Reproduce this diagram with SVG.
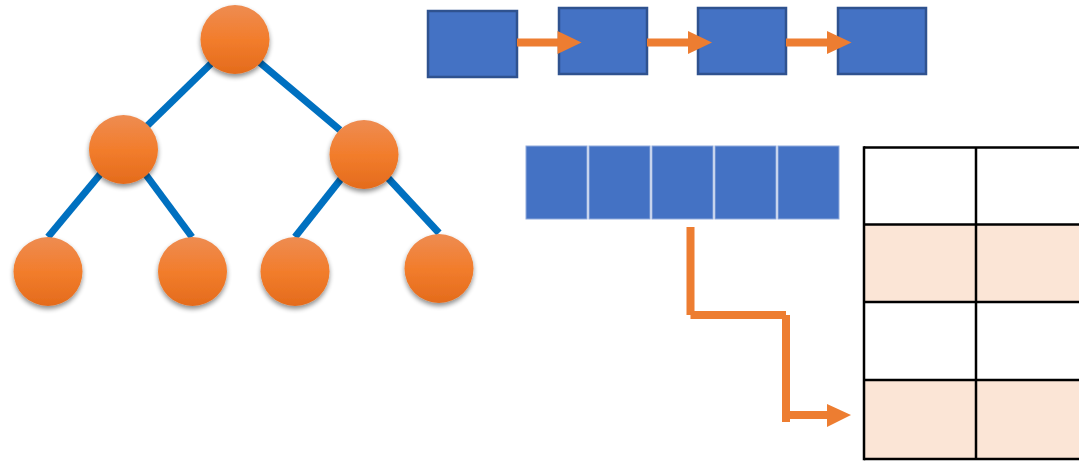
<svg xmlns="http://www.w3.org/2000/svg" width="1079" height="463" viewBox="0 0 1079 463">
  <defs>
    <linearGradient id="ballFill" x1="0" y1="0" x2="0" y2="1">
      <stop offset="0" stop-color="#EE8C52"/>
      <stop offset="0.5" stop-color="#F27D2C"/>
      <stop offset="1" stop-color="#E46B1C"/>
    </linearGradient>
    <filter id="ballShadow" x="-30%" y="-30%" width="160%" height="170%">
      <feGaussianBlur in="SourceAlpha" stdDeviation="2.5"/>
      <feOffset dx="0" dy="3" result="blur"/>
      <feComponentTransfer><feFuncA type="linear" slope="0.45"/></feComponentTransfer>
      <feMerge><feMergeNode/><feMergeNode in="SourceGraphic"/></feMerge>
    </filter>
  </defs>
  <style>
    .edge { stroke: #0070C0; stroke-width: 7; fill: none; }
    .ball { fill: url(#ballFill); filter: url(#ballShadow); }
    .node { fill: #4472C4; stroke: #2F528F; stroke-width: 2.5; }
    .cell { fill: #4472C4; stroke: #8FAADC; stroke-width: 1; }
    .flow { stroke: #ED7D31; stroke-width: 8; fill: none; }
    .head { fill: #ED7D31; }
    .grid { stroke: #000; stroke-width: 2.5; }
  </style>
  <rect width="1079" height="463" fill="#fff"/>

  <!-- binary tree: edges under the nodes -->
  <g id="tree-edges">
    <line class="edge" x1="225" y1="50" x2="147" y2="126"/>
    <line class="edge" x1="245" y1="50" x2="340" y2="130"/>
    <line class="edge" x1="112" y1="160" x2="48" y2="237"/>
    <line class="edge" x1="135" y1="160" x2="192" y2="237"/>
    <line class="edge" x1="352" y1="165" x2="295" y2="237"/>
    <line class="edge" x1="376" y1="165" x2="439" y2="233"/>
  </g>
  <g id="tree-root"><circle class="ball" cx="235" cy="39.5" r="34.5"/></g>
  <g id="tree-left"><circle class="ball" cx="123.5" cy="149.5" r="34.5"/></g>
  <g id="tree-right"><circle class="ball" cx="364" cy="154.5" r="34.5"/></g>
  <g id="tree-leaf-1"><circle class="ball" cx="48" cy="271.5" r="34.5"/></g>
  <g id="tree-leaf-2"><circle class="ball" cx="192.5" cy="271.5" r="34.5"/></g>
  <g id="tree-leaf-3"><circle class="ball" cx="295" cy="271.5" r="34.5"/></g>
  <g id="tree-leaf-4"><circle class="ball" cx="439" cy="268.5" r="34.5"/></g>

  <!-- linked list -->
  <g id="list-1"><rect class="node" x="428" y="11" width="89" height="66"/></g>
  <g id="list-2"><rect class="node" x="559" y="8" width="88" height="66"/></g>
  <g id="list-3"><rect class="node" x="698" y="8" width="88" height="66"/></g>
  <g id="list-4"><rect class="node" x="838" y="8" width="88" height="66"/></g>
  <g id="list-links">
    <line class="flow" x1="517" y1="42.5" x2="560" y2="42.5"/>
    <polygon class="head" points="557.5,31 581.5,42.5 557.5,54"/>
    <line class="flow" x1="647" y1="42.5" x2="690" y2="42.5"/>
    <polygon class="head" points="688,31 712,42.5 688,54"/>
    <line class="flow" x1="786" y1="42.5" x2="829" y2="42.5"/>
    <polygon class="head" points="827,31 851.5,42.5 827,54"/>
  </g>

  <!-- array -->
  <g id="array">
    <rect class="cell" x="526" y="146" width="61" height="73"/>
    <rect class="cell" x="589" y="146" width="61" height="73"/>
    <rect class="cell" x="652" y="146" width="61" height="73"/>
    <rect class="cell" x="715" y="146" width="61" height="73"/>
    <rect class="cell" x="778" y="146" width="61" height="73"/>
  </g>

  <!-- elbow connector from array into table -->
  <g id="array-to-table">
    <line class="flow" x1="690.5" y1="227" x2="690.5" y2="315"/>
    <line class="flow" x1="690.5" y1="315" x2="786" y2="315"/>
    <line class="flow" x1="786" y1="315" x2="786" y2="422"/>
    <line class="flow" x1="782" y1="415" x2="829" y2="415"/>
    <polygon class="head" points="827,404 851,415 827,427"/>
  </g>

  <!-- table -->
  <g id="table">
    <rect x="864" y="224.5" width="220" height="77.5" fill="#FBE5D6"/>
    <rect x="864" y="380" width="220" height="79" fill="#FBE5D6"/>
    <line class="grid" x1="864" y1="147.5" x2="1084" y2="147.5"/>
    <line class="grid" x1="864" y1="224.5" x2="1084" y2="224.5"/>
    <line class="grid" x1="864" y1="302" x2="1084" y2="302"/>
    <line class="grid" x1="864" y1="380" x2="1084" y2="380"/>
    <line class="grid" x1="864" y1="459" x2="1084" y2="459"/>
    <line class="grid" x1="864" y1="146.3" x2="864" y2="460.3"/>
    <line class="grid" x1="976" y1="147.5" x2="976" y2="459"/>
  </g>
</svg>
